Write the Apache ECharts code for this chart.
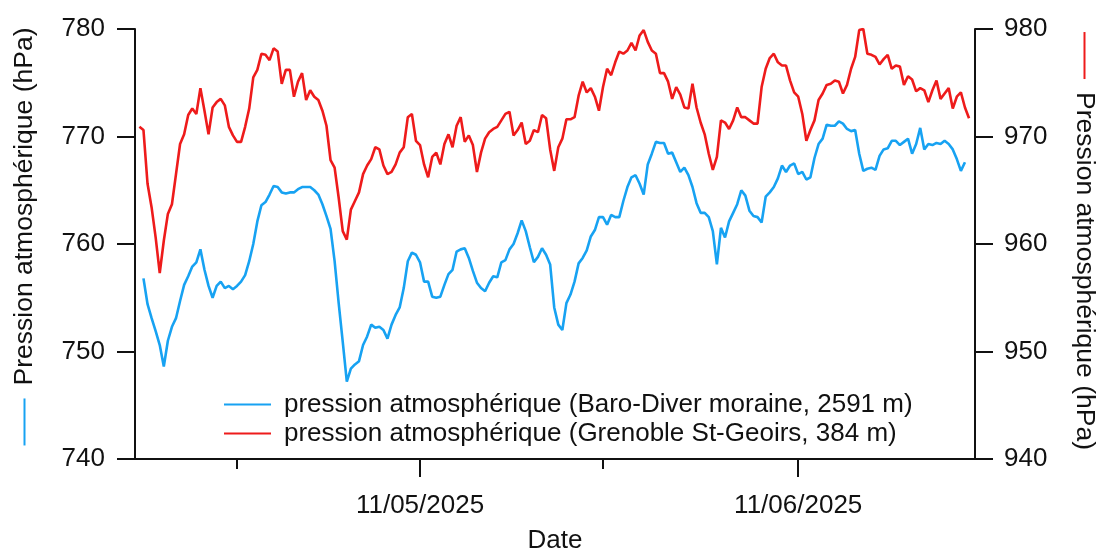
<!DOCTYPE html>
<html>
<head>
<meta charset="utf-8">
<script src="https://cdn.jsdelivr.net/npm/echarts@6/dist/echarts.min.js"></script>
<style>
  html, body { margin: 0; padding: 0; background: #fff; }
  #chart { width: 1097px; height: 550px; }
</style>
</head>
<body>
<div id="chart"></div>
<script>
// Readings every 8 hours; the first reading of each series is given by its start time.
const STEP_HOURS = 8;
const baroStart = new Date(2025, 3, 18, 8, 0);    // Baro-Diver, moraine (2591 m)
const grenobleStart = new Date(2025, 3, 18, 0, 0); // Grenoble St-Geoirs (384 m)

const baroValues = [
  756.8, 754.4, 753.1, 751.9, 750.6, 748.6, 751.0, 752.3, 753.1, 754.7,
  756.2, 757.0, 757.9, 758.3, 759.5, 757.6, 756.1, 755.0, 756.1, 756.5,
  755.9, 756.1, 755.8, 756.1, 756.5, 757.1, 758.4, 760.0, 762.1, 763.6,
  763.9, 764.6, 765.4, 765.3, 764.8, 764.7, 764.8, 764.8, 765.1, 765.3,
  765.3, 765.3, 765.0, 764.6, 763.7, 762.6, 761.4, 758.4, 754.5, 750.9,
  747.2, 748.4, 748.8, 749.1, 750.6, 751.4, 752.5, 752.2, 752.3, 752.0,
  751.2, 752.5, 753.4, 754.1, 755.9, 758.4, 759.2, 759.0, 758.3, 756.5,
  756.5, 755.1, 755.0, 755.1, 756.2, 757.2, 757.6, 759.3, 759.5, 759.6,
  758.7, 757.5, 756.4, 755.9, 755.6, 756.4, 757.0, 756.9, 758.3, 758.5,
  759.5, 760.0, 761.0, 762.2, 761.2, 759.7, 758.3, 758.8, 759.6, 759.0,
  758.1, 754.1, 752.5, 752.0, 754.5, 755.3, 756.5, 758.2, 758.7, 759.4,
  760.7, 761.3, 762.5, 762.5, 761.8, 762.7, 762.5, 762.5, 764.0, 765.3,
  766.2, 766.4, 765.6, 764.6, 767.4, 768.4, 769.5, 769.4, 769.4, 768.4,
  768.5, 767.6, 766.7, 767.1, 766.4, 765.3, 763.8, 762.9, 762.9, 762.5,
  761.2, 758.1, 761.5, 760.6, 762.1, 762.9, 763.7, 765.0, 764.5, 763.1,
  762.6, 762.5, 762.0, 764.4, 764.8, 765.3, 766.1, 767.3, 766.7, 767.3,
  767.5, 766.5, 766.7, 766.0, 766.2, 768.0, 769.3, 769.8, 771.1, 771.0,
  771.0, 771.4, 771.2, 770.7, 770.5, 770.6, 768.4, 766.8, 767.0, 767.1,
  766.9, 768.2, 768.8, 768.9, 769.6, 769.6, 769.2, 769.5, 769.8, 768.4,
  769.3, 770.8, 768.8, 769.3, 769.2, 769.4, 769.3, 769.6, 769.3, 768.8,
  767.9, 766.8, 767.6
];

const grenobleValues = [
  970.9, 970.6, 965.6, 963.4, 960.6, 957.3, 960.3, 962.8, 963.7, 966.5,
  969.3, 970.2, 972.0, 972.6, 972.1, 974.5, 972.4, 970.2, 972.7, 973.2,
  973.5, 972.9, 970.9, 970.1, 969.5, 969.5, 970.9, 972.6, 975.5, 976.2,
  977.7, 977.6, 977.1, 978.2, 977.9, 974.9, 976.2, 976.2, 973.7, 975.1,
  975.9, 973.4, 974.3, 973.7, 973.4, 972.4, 971.0, 967.8, 967.1, 964.3,
  961.2, 960.4, 963.2, 964.0, 964.8, 966.5, 967.3, 967.9, 969.0, 968.8,
  967.3, 966.5, 966.7, 967.4, 968.5, 969.0, 971.8, 972.1, 969.6, 969.2,
  967.4, 966.2, 968.1, 968.5, 967.4, 969.3, 970.2, 969.0, 971.0, 971.8,
  969.5, 970.1, 969.2, 966.7, 968.5, 969.8, 970.4, 970.7, 970.9, 971.5,
  972.1, 972.3, 970.1, 970.6, 971.3, 969.3, 969.6, 970.6, 970.4, 972.0,
  971.7, 968.8, 966.8, 969.0, 969.8, 971.6, 971.6, 971.8, 973.8, 975.1,
  974.1, 974.5, 973.7, 972.4, 974.6, 976.3, 975.7, 976.9, 977.9, 977.7,
  978.0, 978.7, 978.0, 979.4, 979.9, 978.8, 978.0, 977.7, 975.9, 975.9,
  975.1, 973.5, 974.6, 973.9, 972.7, 972.6, 974.9, 972.7, 971.3, 970.2,
  968.4, 966.9, 968.1, 971.5, 971.3, 970.7, 971.5, 972.7, 971.8, 971.8,
  971.5, 971.2, 971.2, 974.6, 976.3, 977.3, 977.7, 976.9, 976.6, 976.6,
  975.2, 974.1, 973.7, 972.1, 969.6, 970.6, 971.5, 973.4, 974.0, 974.8,
  974.9, 975.2, 975.1, 974.0, 974.8, 976.3, 977.4, 979.9, 980.0, 977.7,
  977.6, 977.4, 976.7, 977.2, 977.6, 976.3, 976.6, 976.5, 974.8, 975.6,
  975.3, 974.2, 974.5, 974.3, 973.2, 974.3, 975.2, 973.5, 974.0, 974.5,
  972.6, 973.7, 974.1, 972.7, 971.7
];

// Axis extents and tick marks (dates as millisecond timestamps)
const dateMin = new Date(2025, 3, 17, 15, 20).getTime();
const dateMax = new Date(2025, 5, 25, 11, 45).getTime();
const labelledDates = [new Date(2025, 4, 11).getTime(), new Date(2025, 5, 11).getTime()];
const shortTickDates = [new Date(2025, 3, 26).getTime(), new Date(2025, 4, 26).getTime()];
const leftRange = [740, 780];
const rightRange = [940, 980];
const pressureStep = 10;

const BLUE = '#17a2f2';
const RED = '#ee1b1b';
const INK = '#111111';
const FONT = '"Liberation Sans", Arial, Helvetica, sans-serif';
const FS = 26;
const NAME_FS = 26.5;

function toSeries(start, values) {
  const t0 = start.getTime();
  return values.map((v, i) => [t0 + i * STEP_HOURS * 3600 * 1000, v]);
}

function fmtDate(ts) {
  const d = new Date(ts);
  const p = n => String(n).padStart(2, '0');
  return p(d.getDate()) + '/' + p(d.getMonth() + 1) + '/' + d.getFullYear();
}

// Axis titles carry a short coloured stroke naming the series drawn against them
const nameRich = (color, padWidth) => ({
  line: { width: 47, height: 2, backgroundColor: color },
  gap: { width: 13, height: 2 },
  pad: { width: padWidth, height: 2 }
});

const chart = echarts.init(document.getElementById('chart'), null, { renderer: 'canvas' });

chart.setOption({
  animation: false,
  backgroundColor: '#ffffff',
  textStyle: { fontFamily: FONT, color: INK },
  grid: { left: 135, right: 122, top: 29, bottom: 91, containLabel: false, outerBoundsMode: 'none' },
  legend: {
    orient: 'vertical',
    left: 224,
    top: 390,
    padding: 0,
    itemWidth: 47,
    itemHeight: 2,
    itemGap: 0,
    icon: 'rect',
    selectedMode: false,
    textStyle: { fontSize: FS, color: INK, fontFamily: FONT, lineHeight: 29, padding: [0, 0, 0, 8] },
    data: [
      { name: 'pression atmosphérique (Baro-Diver moraine, 2591 m)', itemStyle: { color: BLUE } },
      { name: 'pression atmosphérique (Grenoble St-Geoirs, 384 m)', itemStyle: { color: RED } }
    ]
  },
  xAxis: [
    {
      type: 'value',
      min: dateMin,
      max: dateMax,
      name: 'Date',
      nameLocation: 'middle',
      nameGap: 69,
      nameTextStyle: { fontSize: FS, color: INK, fontFamily: FONT },
      axisLine: { show: true, onZero: false, lineStyle: { color: INK, width: 2 } },
      axisTick: { show: true, length: 18, lineStyle: { color: INK, width: 2 }, customValues: labelledDates },
      axisLabel: { show: true, customValues: labelledDates, formatter: fmtDate, fontSize: FS, color: INK, fontFamily: FONT, margin: 34 },
      splitLine: { show: false }
    },
    {
      type: 'value',
      min: dateMin,
      max: dateMax,
      position: 'bottom',
      axisLine: { show: false, onZero: false },
      axisTick: { show: true, length: 10, lineStyle: { color: INK, width: 2 }, customValues: shortTickDates },
      axisLabel: { show: false },
      splitLine: { show: false }
    }
  ],
  yAxis: [
    {
      type: 'value',
      position: 'left',
      min: leftRange[0],
      max: leftRange[1],
      interval: pressureStep,
      name: '{pad|}{line|}{gap|}Pression atmosphérique (hPa)',
      nameLocation: 'middle',
      nameRotate: 90,
      nameGap: 97,
      nameTextStyle: { fontSize: NAME_FS, color: INK, fontFamily: FONT, rich: nameRich(BLUE, 15) },
      axisLine: { show: true, onZero: false, lineStyle: { color: INK, width: 2 } },
      axisTick: { show: true, length: 18, lineStyle: { color: INK, width: 2 } },
      axisLabel: { fontSize: FS, color: INK, fontFamily: FONT, margin: 30 },
      splitLine: { show: false }
    },
    {
      type: 'value',
      position: 'right',
      min: rightRange[0],
      max: rightRange[1],
      interval: pressureStep,
      name: '{line|}{gap|}Pression atmosphérique (hPa){pad|}',
      nameLocation: 'middle',
      nameRotate: -90,
      nameGap: 96,
      nameTextStyle: { fontSize: NAME_FS, color: INK, fontFamily: FONT, rich: nameRich(RED, 6) },
      axisLine: { show: true, onZero: false, lineStyle: { color: INK, width: 2 } },
      axisTick: { show: true, length: 18, lineStyle: { color: INK, width: 2 } },
      axisLabel: { fontSize: FS, color: INK, fontFamily: FONT, margin: 29 },
      splitLine: { show: false }
    }
  ],
  series: [
    {
      name: 'pression atmosphérique (Baro-Diver moraine, 2591 m)',
      type: 'line',
      xAxisIndex: 0,
      yAxisIndex: 0,
      showSymbol: false,
      symbol: 'none',
      lineStyle: { color: BLUE, width: 2.6 },
      itemStyle: { color: BLUE },
      data: toSeries(baroStart, baroValues)
    },
    {
      name: 'pression atmosphérique (Grenoble St-Geoirs, 384 m)',
      type: 'line',
      xAxisIndex: 0,
      yAxisIndex: 1,
      showSymbol: false,
      symbol: 'none',
      lineStyle: { color: RED, width: 2.6 },
      itemStyle: { color: RED },
      data: toSeries(grenobleStart, grenobleValues)
    }
  ]
});
</script>
</body>
</html>
